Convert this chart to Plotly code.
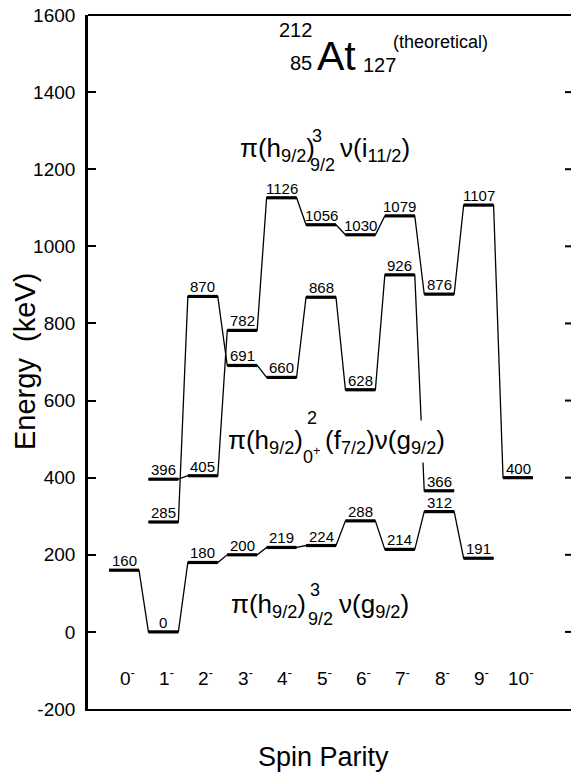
import plotly.graph_objects as go

# ---------------- data ----------------
spin_labels = ["0", "1", "2", "3", "4", "5", "6", "7", "8", "9", "10"]
spin_x = list(range(11))

# pi(h9/2)^3_9/2 nu(g9/2) multiplet
band1_x = [0, 1, 2, 3, 4, 5, 6, 7, 8, 9]
band1_e = [160, 0, 180, 200, 219, 224, 288, 214, 312, 191]
# pi(h9/2)^2_0+ (f7/2) nu(g9/2) multiplet
band2_x = [1, 2, 3, 4, 5, 6, 7, 8]
band2_e = [285, 870, 691, 660, 868, 628, 926, 366]
# pi(h9/2)^3_9/2 nu(i11/2) multiplet
band3_x = [1, 2, 3, 4, 5, 6, 7, 8, 9, 10]
band3_e = [396, 405, 782, 1126, 1056, 1030, 1079, 876, 1107, 400]

y_ticks = [-200, 0, 200, 400, 600, 800, 1000, 1200, 1400, 1600]
spin_label_y = -117

# ---------------- layout geometry ----------------
W, H = 571, 775
L, R, T, B = 88, 0, 15, 66
PW, PH = W - L - R, H - T - B
X0 = -0.914
XR = X0 + PW / 39.4
HALF = 0.38
FONT = "Liberation Sans, Arial, Helvetica, sans-serif"


def px(xp):
    return (xp - L) / PW


def py(yp):
    return (H - B - yp) / PH


fig = go.Figure()

for bx, be in [(band1_x, band1_e), (band2_x, band2_e), (band3_x, band3_e)]:
    cx, cy, lx, ly = [], [], [], []
    for x, e in zip(bx, be):
        cx += [x - HALF, x + HALF]
        cy += [e, e]
        lx += [x - HALF, x + HALF, None]
        ly += [e, e, None]
    fig.add_trace(go.Scatter(x=cx, y=cy, mode="lines",
                             line=dict(color="black", width=1.3),
                             hoverinfo="skip", showlegend=False))
    fig.add_trace(go.Scatter(x=lx, y=ly, mode="lines",
                             line=dict(color="black", width=3.2),
                             hoverinfo="skip", showlegend=False))

annotations = []
for bx, be in [(band1_x, band1_e), (band2_x, band2_e), (band3_x, band3_e)]:
    for x, e in zip(bx, be):
        annotations.append(dict(x=x, y=e, xref="x", yref="y", text=str(e),
                                showarrow=False, yanchor="bottom", yshift=-1,
                                font=dict(size=15, color="black", family=FONT)))

for x, s in zip(spin_x, spin_labels):
    annotations.append(dict(x=x, y=spin_label_y, xref="x", yref="y",
                            text=f"{s}<sup>-</sup>", showarrow=False,
                            xshift=3,
                            font=dict(size=19, color="black", family=FONT)))


def txt(text, xp, yp, size, xanchor="left", bg=None, pad=0):
    d = dict(x=px(xp), y=py(yp), xref="paper", yref="paper", text=text,
             showarrow=False, xanchor=xanchor, yanchor="middle",
             font=dict(size=size, color="black", family=FONT))
    if bg:
        d["bgcolor"] = bg
        d["borderpad"] = pad
    annotations.append(d)


# title: 212/85 At 127 (theoretical)
txt("212", 314, 30, 20, xanchor="right")
txt("85", 314, 63, 20, xanchor="right")
txt("At", 315, 56, 41)
txt("127", 361, 65, 20)
txt("(theoretical)", 391, 42, 18)

MAIN, STK = 26, 18
# band 3 label
txt("π(h<sub>9/2</sub>)", 238, 150, MAIN)
txt("3", 310, 136, STK)
txt("9/2", 308, 165, STK)
txt("ν(i<sub>11/2</sub>)", 338, 150, MAIN)

# band 2 label
txt("π(h<sub>9/2</sub>)", 226, 441, MAIN)
txt("2", 305, 418, STK)
txt("0<sup>+</sup>", 301, 455, STK)
txt("(f<sub>7/2</sub>)ν(g<sub>9/2</sub>)", 320, 441, MAIN, bg="white", pad=4)

# band 1 label
txt("π(h<sub>9/2</sub>)", 229, 605, MAIN)
txt("3", 308, 590, STK)
txt("9/2", 306, 619, STK)
txt("ν(g<sub>9/2</sub>)", 337, 605, MAIN)

# axis titles
annotations.append(dict(x=px(25), y=py(362), xref="paper", yref="paper",
                        text="Energy\u00a0\u00a0(keV)", textangle=-90, showarrow=False,
                        xanchor="center", yanchor="middle",
                        font=dict(size=29, color="black", family=FONT)))
annotations.append(dict(x=px(323), y=py(757), xref="paper", yref="paper",
                        text="Spin Parity", showarrow=False,
                        xanchor="center", yanchor="middle",
                        font=dict(size=27, color="black", family=FONT)))

shapes = [dict(type="line", xref="paper", yref="paper", x0=0, x1=1, y0=1, y1=1,
               line=dict(color="black", width=2.2))]
for t in y_ticks[1:-1]:
    shapes.append(dict(type="line", xref="paper", yref="y",
                       x0=1 - 6 / PW, x1=1, y0=t, y1=t,
                       line=dict(color="black", width=2)))

fig.update_layout(
    width=W, height=H,
    margin=dict(l=L, r=R, t=T, b=B),
    paper_bgcolor="white", plot_bgcolor="white",
    showlegend=False,
    annotations=annotations,
    shapes=shapes,
    xaxis=dict(range=[X0, XR], showgrid=False, zeroline=False,
               showticklabels=False, ticks="", showline=True,
               linecolor="black", linewidth=2.2),
    yaxis=dict(range=[-200, 1600], tickvals=y_ticks,
               ticktext=[str(v) for v in y_ticks],
               showgrid=False, zeroline=False, showline=True,
               linecolor="black", linewidth=2.6, ticks="inside",
               ticklen=8, tickwidth=2, tickcolor="black",
               ticklabelstandoff=6,
               tickfont=dict(size=19, color="black", family=FONT)),
)

fig.write_html("out.html")
